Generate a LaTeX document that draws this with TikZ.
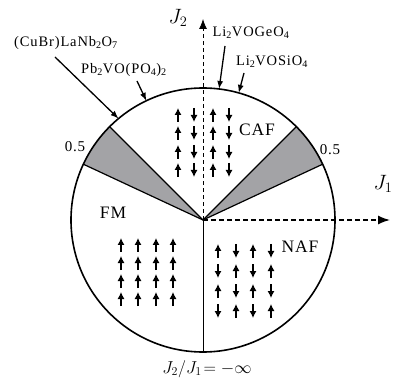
\documentclass[tikz,border=0pt]{standalone}
\usepackage{fontspec}
\setmainfont{Liberation Serif}
\newfontfamily\lblfont[LetterSpace=5]{Liberation Serif}
\newfontfamily\frmfont[LetterSpace=6]{Liberation Serif}
\usetikzlibrary{arrows.meta,calc}
\definecolor{wedgegray}{RGB}{163,163,166}
\tikzset{
  circ/.style={line width=1.6pt},
  wedgeline/.style={line width=1.2pt},
  spin/.style={line width=1.1pt,-{Latex[length=7pt,width=7pt]}},
  pointer/.style={line width=1.3pt,-{Latex[length=8pt,width=6pt]}},
  region/.style={font=\fontsize{17.5}{19}\selectfont\lblfont, inner sep=0pt},
  formula/.style={font=\fontsize{14.5}{16}\selectfont\frmfont, inner sep=0pt},
  axislabel/.style={font=\fontsize{21}{23}\selectfont, inner sep=0pt},
}
\begin{document}
\begin{tikzpicture}[x=1pt,y=-1pt]
\useasboundingbox (0,0) rectangle (394,385);
\def\R{132}
\coordinate (c) at (203,220);
% grey wedges
\fill[wedgegray] (c) -- +(-25:\R) arc[start angle=-25,end angle=-45,radius=\R] -- cycle;
\fill[wedgegray] (c) -- +(-135:\R) arc[start angle=-135,end angle=-155,radius=\R] -- cycle;
% boundary lines
\draw[wedgeline] (c) -- +(-25:\R);
\draw[wedgeline] (c) -- +(-45:\R);
\draw[wedgeline] (c) -- +(-135:\R);
\draw[wedgeline] (c) -- +(-155:\R);
\coordinate (bot) at (203,352);
\draw[line width=0.8pt] (c) -- (bot);
% circle
\draw[circ] (c) circle[radius=\R];
% axes
\coordinate (j1tip) at (390,220);
\coordinate (j2tip) at (203,19);
\draw[line width=1.5pt,dash pattern=on 5pt off 3pt,-{Latex[length=12pt,width=9pt]}] (c) -- (j1tip);
\draw[line width=0.8pt,dash pattern=on 4pt off 3pt,-{Latex[length=10pt,width=8pt]}] (c) -- (j2tip);
\node[axislabel] (j1) at (383,184) {$J_1$};
\node[axislabel] (j2) at (178,18) {$J_2$};
\node[font=\fontsize{17}{19}\selectfont, inner sep=0pt] (jinf) at (207,369) {$J_2/J_1\!=-\infty$};
% region labels
\node[region] (caf) at (257,130) {CAF};
\node[region] (fm) at (113,213) {FM};
\node[region] (naf) at (300,247) {NAF};
\node[region,font=\fontsize{15}{17}\selectfont\lblfont] (hl) at (75,147) {0.5};
\node[region,font=\fontsize{15}{17}\selectfont\lblfont] (hr) at (330,150) {0.5};
% formulas
\node[formula] (cubr) at (66,43) {(CuBr)LaNb\textsubscript{2}O\textsubscript{7}};
\node[formula] (pb) at (124,70) {Pb\textsubscript{2}VO(PO\textsubscript{4})\textsubscript{2}};
\node[formula] (ge) at (251,33) {Li\textsubscript{2}VOGeO\textsubscript{4}};
\node[formula] (si) at (272,62) {Li\textsubscript{2}VOSiO\textsubscript{4}};
\coordinate (p1) at (55,57);
\coordinate (p2) at (137,81);
\coordinate (p3) at (225,46);
\coordinate (p4) at (244,73);
\coordinate (q1) at ($(c)+(-129.8:\R)$);
\coordinate (q2) at ($(c)+(-115.4:\R)$);
\coordinate (q3) at ($(c)+(-83:\R)$);
\coordinate (q4) at ($(c)+(-74.3:\R)$);
\draw[pointer] (p1) -- (q1);
\draw[pointer] (p2) -- (q2);
\draw[pointer] (p3) -- (q3);
\draw[pointer] (p4) -- (q4);
% CAF spins
\foreach \y in {115,133,152,170} {
  \draw[spin] (178,\y+7) -- (178,\y-7);
  \draw[spin] (194,\y-7) -- (194,\y+7);
  \draw[spin] (213,\y+7) -- (213,\y-7);
  \draw[spin] (229,\y-7) -- (229,\y+7);
}
% FM spins
\foreach \x in {121,138,156,173} {
  \foreach \y in {245,263,281,299} {
    \draw[spin] (\x,\y+7) -- (\x,\y-7);
  }
}
% NAF spins
\foreach \x/\i in {218/0,236/1,253/0,271/1} {
  \foreach \y/\j in {251/0,271/1,291/0,311/1} {
    \pgfmathtruncatemacro{\s}{mod(\i+\j,2)}
    \ifnum\s=0
      \draw[spin] (\x,\y+7) -- (\x,\y-7);
    \else
      \draw[spin] (\x,\y-7) -- (\x,\y+7);
    \fi
  }
}
\end{tikzpicture}
\end{document}
